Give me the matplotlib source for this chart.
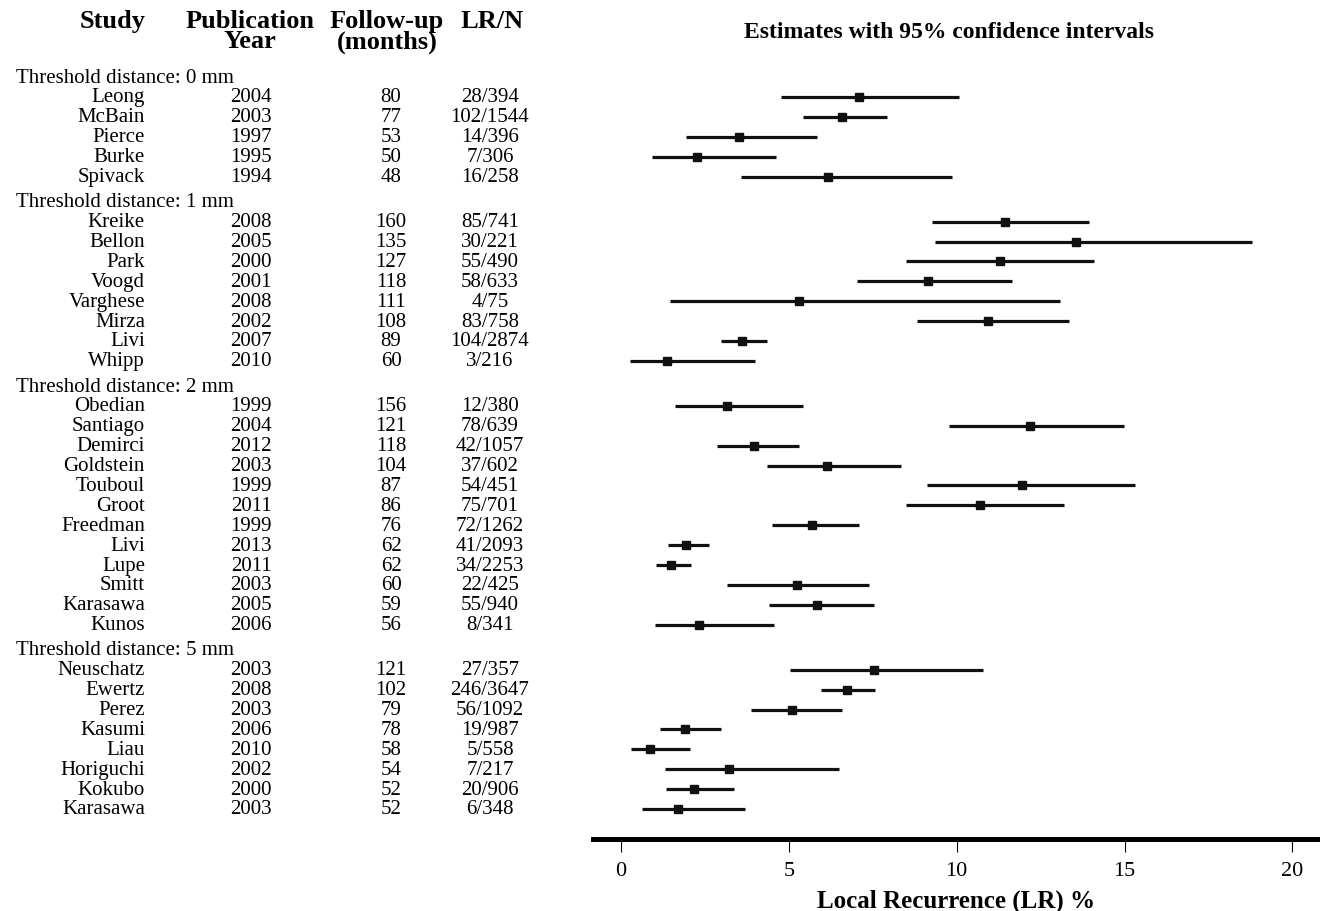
import matplotlib
matplotlib.use("Agg")
import matplotlib.pyplot as plt
from matplotlib.transforms import blended_transform_factory

plt.rcParams['font.family'] = ['Liberation Serif', 'DejaVu Serif']

group_labels = ["Threshold distance: 0 mm", "Threshold distance: 1 mm",
                "Threshold distance: 2 mm", "Threshold distance: 5 mm"]
group_sizes = [5, 8, 12, 8]

studies = ["Leong", "McBain", "Pierce", "Burke", "Spivack",
           "Kreike", "Bellon", "Park", "Voogd", "Varghese", "Mirza", "Livi", "Whipp",
           "Obedian", "Santiago", "Demirci", "Goldstein", "Touboul", "Groot",
           "Freedman", "Livi", "Lupe", "Smitt", "Karasawa", "Kunos",
           "Neuschatz", "Ewertz", "Perez", "Kasumi", "Liau", "Horiguchi", "Kokubo", "Karasawa"]
years = ["2004", "2003", "1997", "1995", "1994",
         "2008", "2005", "2000", "2001", "2008", "2002", "2007", "2010",
         "1999", "2004", "2012", "2003", "1999", "2011", "1999", "2013", "2011", "2003", "2005", "2006",
         "2003", "2008", "2003", "2006", "2010", "2002", "2000", "2003"]
followup = ["80", "77", "53", "50", "48",
            "160", "135", "127", "118", "111", "108", "89", "60",
            "156", "121", "118", "104", "87", "86", "76", "62", "62", "60", "59", "56",
            "121", "102", "79", "78", "58", "54", "52", "52"]
lr_n = ["28/394", "102/1544", "14/396", "7/306", "16/258",
        "85/741", "30/221", "55/490", "58/633", "4/75", "83/758", "104/2874", "3/216",
        "12/380", "78/639", "42/1057", "37/602", "54/451", "75/701", "72/1262", "41/2093",
        "34/2253", "22/425", "55/940", "8/341",
        "27/357", "246/3647", "56/1092", "19/987", "5/558", "7/217", "20/906", "6/348"]

estimate = [7.10, 6.60, 3.52, 2.27, 6.17,
            11.45, 13.55, 11.29, 9.15, 5.31, 10.93, 3.62, 1.38,
            3.15, 12.19, 3.95, 6.13, 11.95, 10.69, 5.69, 1.94, 1.50, 5.25, 5.83, 2.33,
            7.53, 6.72, 5.11, 1.91, 0.88, 3.21, 2.19, 1.69]
ci_low = [4.77, 5.41, 1.95, 0.92, 3.59,
          9.27, 9.34, 8.50, 7.03, 1.47, 8.81, 2.97, 0.28,
          1.62, 9.76, 2.87, 4.35, 9.11, 8.50, 4.49, 1.40, 1.05, 3.15, 4.42, 1.02,
          5.03, 5.95, 3.88, 1.16, 0.30, 1.30, 1.34, 0.62]
ci_high = [10.07, 7.94, 5.83, 4.63, 9.86,
           13.95, 18.79, 14.08, 11.65, 13.07, 13.36, 4.35, 3.98,
           5.42, 14.97, 5.31, 8.35, 15.31, 13.19, 7.10, 2.63, 2.08, 7.39, 7.53, 4.55,
           10.78, 7.58, 6.58, 2.97, 2.05, 6.51, 3.36, 3.70]

# row positions: one row per study, a header row plus a small gap per group
group_gap = 0.27
ys = []
header_ys = []
pos = 0.0
for g, n in enumerate(group_sizes):
    if g > 0:
        pos -= 1 + group_gap   # room for the group header
    header_ys.append(pos + 1)
    for i in range(n):
        ys.append(pos)
        pos -= 1

W, H = 1320, 912
fig = plt.figure(figsize=(W / 100, H / 100), dpi=100)
ax = fig.add_axes([593 / W, 1 - 840 / H, 1 - 593 / W, (840 - 60) / H])

ink = '#111111'
ax.hlines(ys, ci_low, ci_high, color=ink, lw=2.3)
ax.plot(estimate, ys, 's', color=ink, ms=5.5)

ax.set_xlim(-0.83, 20.82)
ax.set_ylim(ys[-1] - 1.51, 1.91)
ax.set_xticks([0, 5, 10, 15, 20])
ax.set_yticks([])
for s in ['left', 'top', 'right']:
    ax.spines[s].set_visible(False)
ax.spines['bottom'].set_linewidth(3.6)
ax.spines['bottom'].set_color('black')
ax.tick_params(axis='x', direction='out', length=9, width=0.8, labelsize=16, pad=7)
ax.set_xlabel("Local Recurrence (LR) %", fontsize=18, fontweight='bold', labelpad=6)

# table on the left
tr = blended_transform_factory(fig.transFigure, ax.transData)
fs = 15
for y, lab in zip(header_ys, group_labels):
    ax.text(16 / W, y, lab, transform=tr, ha='left', va='center', fontsize=fs, clip_on=False)
for y, s, yr, fu, ln in zip(ys, studies, years, followup, lr_n):
    ax.text(145 / W, y, s, transform=tr, ha='right', va='center', fontsize=fs, clip_on=False)
    ax.text(251 / W, y, yr, transform=tr, ha='center', va='center', fontsize=fs, clip_on=False)
    ax.text(391 / W, y, fu, transform=tr, ha='center', va='center', fontsize=fs, clip_on=False)
    ax.text(490 / W, y, ln, transform=tr, ha='center', va='center', fontsize=fs, clip_on=False)

hy = 1 - 10 / H
hfs = 19
fig.text(113 / W, hy, "Study", ha='center', va='top', fontsize=hfs, fontweight='bold')
fig.text(250 / W, hy, "Publication\nYear", ha='center', va='top', fontsize=hfs,
         fontweight='bold', linespacing=0.85)
fig.text(387 / W, hy, "Follow-up\n(months)", ha='center', va='top', fontsize=hfs,
         fontweight='bold', linespacing=0.85)
fig.text(492 / W, hy, "LR/N", ha='center', va='top', fontsize=hfs, fontweight='bold')
fig.text(949 / W, 1 - 32 / H, "Estimates with 95% confidence intervals", ha='center',
         va='center', fontsize=17, fontweight='bold')

fig.savefig("out.png", dpi=100)
